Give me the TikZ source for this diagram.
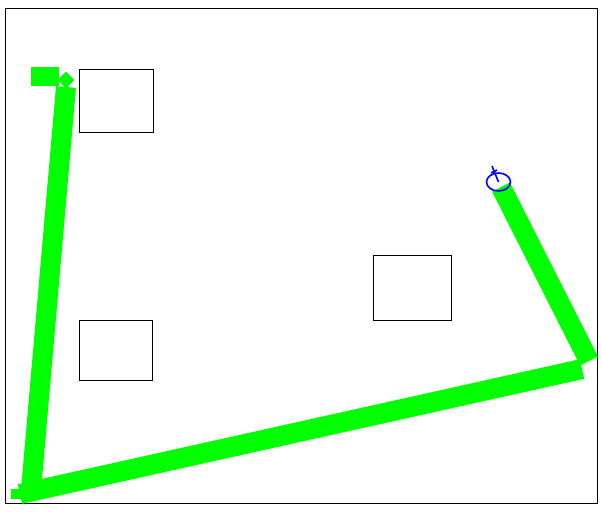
\documentclass[tikz,border=0pt]{standalone}
\usepackage{tikz}

\begin{document}
\begin{tikzpicture}[x=1pt,y=-1pt,track/.style={draw=green,line width=20pt},
    obstacle/.style={draw=black,thin},robot/.style={draw=blue,line width=1.6pt}]
    \useasboundingbox (0,0) rectangle (602,513);
    %arena border
    \draw [semithick] (5.5,8) rectangle (597.5,503);
    %obstacles
    \draw [obstacle] (79,69) rectangle (153,132);
    \draw [obstacle] (79,320) rectangle (152,380);
    \draw [obstacle] (373,255) rectangle (451,320);
    %path points
    \coordinate (p0) at (66,87);
    \coordinate (p1) at (31,490);
    \coordinate (p2) at (582,369);
    \coordinate (p3) at (501,187);
    %start marker
    \fill [green] (31,67) rectangle (59,86);
    \fill [green,rotate around={45:(66,80)}] (60,74) rectangle (72,86);
    %travelled path
    \draw [track] (p0) -- (p1);
    \draw [track,line width=10pt] (11,494) -- (24,494);
    \draw [track] (20,494) -- (p2);
    \draw [track] (589,361) -- (p3);
    %robot
    \draw [robot] (498.5,182) ellipse (12 and 9);
    \draw [robot] (498.5,182) -- (492,166);
    \draw [robot] (491,173) -- (497,170);
  \end{tikzpicture}
\end{document}
